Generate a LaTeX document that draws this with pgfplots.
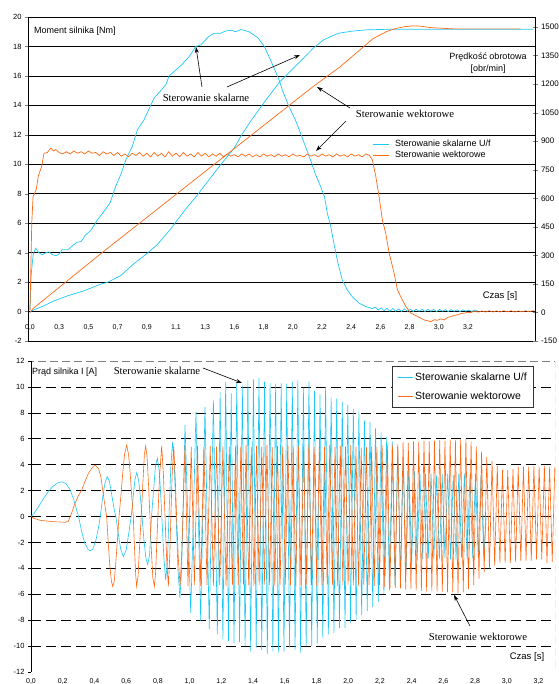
\documentclass[border=0pt]{standalone}
\usepackage{fontspec}
\setmainfont{Liberation Sans}
\newfontfamily\tms{Liberation Serif}
\usepackage{pgfplots}
\pgfplotsset{compat=1.18}
\usetikzlibrary{arrows.meta}
\definecolor{cblue}{RGB}{30,200,245}
\definecolor{corange}{RGB}{255,105,20}
\begin{document}
\begin{tikzpicture}
\path[use as bounding box] (0pt,0pt) rectangle (558pt,684pt);
% ================= TOP: torque (left) =================
\begin{axis}[
  at={(28pt,343pt)}, anchor=south west, scale only axis,
  width=507pt, height=324pt,
  xmin=-0.0137, xmax=3.459, ymin=-2, ymax=20,
  xtick={0,0.2,0.4,0.6,0.8,1.0,1.2,1.4,1.6,1.8,2.0,2.2,2.4,2.6,2.8,3.0},
  xticklabels={{0,0},{0,3},{0,5},{0,7},{0,9},{1,1},{1,3},{1,6},{1,8},{2,0},{2,2},{2,4},{2,6},{2,8},{3,0},{3,2}},
  xticklabel style={font=\fontsize{7}{8}\selectfont, yshift=23pt},
  major x tick style={draw=none},
  ytick={-2,0,...,20}, ytick pos=left, tick align=outside, major tick length=3pt,
  yticklabel style={font=\fontsize{7.5}{9}\selectfont},
  x axis line style={gray, line width=0.6pt},
  y axis line style={black, line width=0.8pt},
  /pgf/number format/assume math mode=true,
  legend style={at={(0.679,0.627)}, anchor=north west, draw=none, fill=none,
    font=\fontsize{9}{10.5}\selectfont, row sep=-1pt, inner sep=0pt, cells={anchor=west}},
  legend image code/.code={\draw[#1,line width=0.8pt] (0pt,0pt) -- (16pt,0pt); \path (20pt,0pt);},
]
\pgfplotsinvokeforeach{0,2,4,6,8,10,12,14,16,18}{\draw[black, line width=0.6pt] (axis cs:-0.0137,#1) -- (axis cs:3.459,#1);}
\addplot[cblue, line width=0.7pt] coordinates {
(0,0.1)(0.008,2.5)(0.022,3.9)(0.039,4.3)(0.06,4.0)(0.085,3.85)(0.11,4.0)(0.13,4.05)(0.155,3.85)(0.18,3.8)(0.205,3.95)(0.22,4.2)(0.26,4.2)(0.29,4.45)(0.32,4.7)(0.35,4.75)(0.38,5.2)(0.416,5.5)(0.46,6.2)(0.507,6.8)(0.549,7.4)(0.587,8.5)(0.626,9.4)(0.656,10.3)(0.70,11.2)(0.736,12.35)(0.78,13.0)(0.827,14.0)(0.85,14.5)(0.896,15.0)(0.93,15.4)(0.953,16.0)(1.033,16.7)(1.09,17.3)(1.136,18.0)(1.17,18.1)(1.216,18.6)(1.26,18.9)(1.307,18.9)(1.34,19.05)(1.376,19.1)(1.41,19.0)(1.445,19.15)(1.50,19.0)(1.53,18.8)(1.56,18.6)(1.605,18.0)(1.66,16.8)(1.707,15.7)(1.73,15.0)(1.77,14.0)(1.818,13.0)(1.853,12.1)(1.887,11.2)(1.921,10.3)(1.956,9.3)(1.99,8.5)(2.017,7.8)(2.036,6.7)(2.059,5.8)(2.082,4.6)(2.109,3.3)(2.139,2.15)(2.173,1.47)(2.208,1.0)(2.254,0.57)(2.30,0.34)(2.345,0.2)(2.365,0.3)(2.385,0.1)(2.405,0.25)(2.425,0.05)(2.445,0.22)(2.465,0.02)(2.485,0.2)(2.505,0.02)(2.525,0.18)(2.545,0.0)(2.565,0.18)(2.585,0.02)(2.605,0.16)(2.625,0.0)(2.645,0.16)(2.665,0.02)(2.685,0.15)(2.705,0.0)(2.725,0.15)(2.745,0.02)(2.765,0.14)(2.785,0.0)(2.805,0.14)(2.825,0.02)(2.845,0.13)(2.865,0.0)(2.885,0.13)(2.905,0.02)(2.925,0.12)(2.945,0.0)(2.965,0.12)(2.985,0.02)(3.005,0.1)(3.025,0.0)(3.045,0.1)(3.07,0.02)
};
\addlegendentry{Sterowanie skalarne U/f}
\addplot[corange, line width=0.7pt] coordinates {
(0,0.1)(0.005,2.5)(0.012,6.0)(0.021,7.8)(0.043,8.3)(0.057,9.2)(0.08,9.85)(0.096,10.75)(0.119,10.8)(0.142,11.1)(0.16,10.9)(0.176,11.0)(0.199,10.8)
(0.225,10.7)(0.25,10.85)(0.275,10.7)(0.3,10.9)(0.325,10.75)(0.35,10.85)(0.375,10.7)(0.4,10.9)(0.425,10.75)(0.45,10.8)(0.475,10.6)(0.5,10.85)(0.525,10.7)(0.55,10.8)(0.575,10.6)(0.6,10.8)(0.625,10.55)(0.65,10.7)(0.675,10.5)(0.7,10.75)(0.725,10.6)(0.75,10.8)(0.775,10.55)(0.8,10.75)(0.825,10.5)(0.85,10.8)(0.875,10.55)(0.9,10.75)(0.925,10.5)(0.95,10.85)(0.975,10.55)(1.0,10.75)(1.025,10.5)(1.05,10.8)(1.075,10.55)(1.1,10.7)(1.125,10.5)(1.15,10.8)(1.175,10.55)(1.2,10.75)(1.225,10.5)(1.25,10.7)(1.275,10.55)(1.3,10.75)(1.325,10.5)(1.35,10.7)(1.375,10.55)(1.4,10.65)(1.425,10.5)(1.45,10.7)(1.475,10.55)(1.5,10.7)(1.525,10.5)(1.55,10.65)(1.575,10.5)(1.6,10.7)(1.625,10.55)(1.65,10.65)(1.675,10.5)(1.7,10.7)(1.725,10.55)(1.75,10.65)(1.775,10.5)(1.8,10.7)(1.825,10.55)(1.85,10.6)(1.875,10.5)(1.9,10.7)(1.925,10.55)(1.95,10.65)(1.975,10.5)(2.0,10.7)(2.025,10.55)(2.05,10.65)(2.075,10.5)(2.1,10.7)(2.125,10.55)(2.15,10.65)(2.175,10.5)(2.2,10.7)(2.225,10.55)(2.25,10.65)(2.275,10.5)(2.3,10.7)(2.325,10.6)
(2.345,10.3)(2.368,9.2)(2.391,7.8)(2.414,6.2)(2.437,5.3)(2.46,3.96)(2.494,2.6)(2.517,1.47)(2.54,1.0)(2.574,0.34)(2.609,-0.11)(2.655,-0.34)(2.70,-0.57)(2.746,-0.68)(2.77,-0.55)(2.79,-0.6)(2.815,-0.5)(2.838,-0.57)(2.86,-0.4)(2.884,-0.34)(2.91,-0.25)(2.93,-0.23)(2.955,-0.12)(2.975,-0.11)(3.0,-0.05)(3.02,-0.07)(3.045,0.03)(3.07,-0.04)(3.095,0.04)(3.12,-0.03)(3.145,0.05)(3.17,-0.03)(3.195,0.04)(3.22,-0.03)(3.245,0.05)(3.27,-0.02)(3.295,0.05)(3.32,-0.03)(3.345,0.04)(3.37,-0.02)(3.395,0.05)(3.42,-0.02)(3.445,0.06)(3.456,0.02)
};
\addlegendentry{Sterowanie wektorowe}
\end{axis}
% ================= TOP: speed (right) =================
\begin{axis}[
  at={(28pt,343pt)}, anchor=south west, scale only axis,
  width=507pt, height=324pt,
  xmin=-0.0137, xmax=3.459, ymin=-150, ymax=1552.5,
  axis x line=none, axis y line*=right,
  ytick={-150,0,150,300,450,600,750,900,1050,1200,1350,1500},
  tick align=center, major tick length=5pt,
  yticklabel style={font=\fontsize{8}{9}\selectfont},
  y axis line style={black, line width=0.8pt},
  /pgf/number format/assume math mode=true, /pgf/number format/1000 sep={},
]
\addplot[cblue, line width=0.7pt] coordinates {
(0,0)(0.009,8)(0.096,35)(0.165,61)(0.256,87)(0.37,114)(0.485,149)(0.53,158)(0.62,193)(0.71,255)(0.80,309)(0.87,355)(0.965,440)(1.056,533)(1.147,618)(1.24,711)(1.31,780)(1.40,865)(1.445,927)(1.51,1004)(1.61,1110)(1.712,1213)(1.85,1319)(1.941,1389)(2.01,1432)(2.112,1467)(2.215,1479)(2.307,1485)(2.466,1488)(3.447,1488)
};
\addplot[corange, line width=0.7pt] coordinates {
(0,0)(0.02,20)(0.485,309)(1.0,620)(1.5,922)(1.712,1050)(1.941,1188)(2.123,1290)(2.26,1380)(2.352,1440)(2.443,1476)(2.51,1493)(2.57,1502)(2.626,1506)(2.68,1504)(2.74,1497)(2.9,1490)(3.36,1490)
};
\end{axis}
% ================= BOTTOM: current =================
\begin{axis}[
  at={(31pt,12pt)}, anchor=south west, scale only axis,
  width=524pt, height=311pt,
  xmin=0, xmax=3.304, ymin=-12, ymax=12,
  axis line style={draw=none},
  xtick={0,0.2,0.4,0.6,0.8,1.0,1.2,1.4,1.6,1.8,2.0,2.2,2.4,2.6,2.8,3.0,3.2},
  xticklabel style={font=\fontsize{7}{8}\selectfont, /pgf/number format/.cd, fixed, fixed zerofill, precision=1, use comma},
  xtick style={draw=none},
  ytick={-12,-10,...,12}, ytick pos=left, tick align=outside, major tick length=3pt,
  ytick style={black, line width=0.6pt},
  yticklabel style={font=\fontsize{7.5}{9}\selectfont},
  /pgf/number format/assume math mode=true,
  legend style={at={(0.96,0.984)}, anchor=north east, draw=black!80, line width=0.7pt, fill=white,
    font=\fontsize{10.5}{12}\selectfont, inner xsep=5pt, inner ysep=5pt, row sep=5pt, cells={anchor=west}},
  legend image code/.code={\draw[#1,line width=0.8pt] (0pt,0pt) -- (15pt,0pt);},
]
\pgfplotsinvokeforeach{-10,-8,-6,-4,-2,0,2,4,6,8,10}{\draw[black, line width=0.6pt, dash pattern=on 10pt off 5pt] (axis cs:0,#1) -- (axis cs:3.304,#1);}
\draw[gray, line width=0.8pt, dash pattern=on 8pt off 4pt] (rel axis cs:0,0) -- (rel axis cs:1,0) -- (rel axis cs:1,1) -- (rel axis cs:0,1);
\draw[black, line width=0.8pt] (rel axis cs:0,0) -- (rel axis cs:0,1);
\addplot[cblue, line width=0.6pt] coordinates {
(0,0)(0.02,0.25)(0.05,0.8)(0.08,1.4)(0.11,1.95)(0.14,2.35)(0.17,2.6)(0.195,2.68)(0.22,2.55)(0.245,2.1)(0.27,1.3)(0.285,0.6)(0.30,0)(0.32,-1.2)(0.34,-2.1)(0.36,-2.55)(0.375,-2.65)(0.39,-2.5)(0.41,-1.8)(0.425,-0.9)(0.437,0)(0.45,1.3)(0.465,2.5)(0.48,3.08)(0.495,2.7)(0.51,1.6)(0.525,0.5)(0.535,0)(0.55,-1.3)(0.565,-2.5)(0.582,-3.1)(0.60,-2.6)(0.615,-1.4)(0.632,0)(0.645,1.6)(0.656,2.9)(0.667,3.38)(0.68,2.7)(0.692,1.2)(0.70,0)(0.712,-1.8)(0.724,-3.2)(0.736,-3.7)(0.748,-2.9)(0.76,0)(0.772,1.9)(0.785,3.9)(0.797,4.49)(0.81,3.4)(0.825,0)(0.837,-3.0)(0.849,-4.9)(0.86,-3.5)(0.87,0)(0.882,4.0)(0.893,5.75)(0.904,3.8)(0.915,0)(0.927,-4.2)(0.939,-6.3)(0.95,-4.0)(0.958,0)(0.971,7.05)(0.989,0)(1.007,-7.44)(1.024,0)(1.04,8.08)(1.07,-8.08)(1.097,8.46)(1.124,-8.7)(1.15,8.97)(1.175,-9.1)
(1.1925,9.6)(1.21,-9.5)(1.2275,10.4)(1.245,-9.6)(1.2625,9.5)(1.28,-9.75)(1.2975,10.3)(1.315,-9.7)(1.3325,10.1)(1.35,-10.0)(1.3675,10.5)(1.385,-10.4)(1.4025,10.6)(1.42,-10.1)(1.4375,10.7)(1.455,-10.3)(1.4725,10.4)(1.49,-10.6)(1.5075,10.3)(1.525,-10.4)(1.5425,10.25)(1.56,-10.5)(1.5775,10.3)(1.595,-10.4)(1.6125,10.25)(1.63,-10.1)(1.6475,10.4)(1.665,-10.3)(1.6825,10.55)(1.70,-10.5)(1.7175,9.95)(1.735,-10.0)(1.7525,10.4)(1.77,-10.0)(1.7875,9.7)(1.805,-9.8)(1.8225,9.4)(1.84,-9.4)(1.8575,10.0)(1.875,-9.1)(1.8925,9.2)(1.91,-9.0)(1.9275,9.1)(1.945,-8.6)(1.9625,8.85)(1.98,-8.6)(1.9975,8.6)(2.015,-8.2)(2.0325,8.3)(2.05,-8.0)(2.0675,8.15)(2.085,-7.6)(2.1025,7.4)(2.12,-7.3)(2.1375,7.3)(2.155,-7.0)(2.1725,6.8)(2.19,-6.6)(2.2075,6.5)(2.225,-6.0)(2.2425,6.15)(2.26,-5.7)(2.2775,5.8)(2.295,-5.3)(2.3125,5.4)(2.33,-4.8)(2.3475,4.6)(2.365,-4.2)(2.3825,4.0)(2.40,-3.7)(2.4175,3.5)(2.435,-3.4)(2.4525,3.3)(2.47,-3.3)(2.4875,3.3)(2.505,-3.2)(2.5225,3.3)(2.54,-3.3)(2.5575,3.2)(2.575,-3.3)(2.5925,3.3)(2.61,-3.2)(2.6275,3.3)(2.645,-3.3)(2.6625,3.2)(2.68,-3.3)(2.6975,3.3)(2.715,-3.2)(2.7325,3.3)(2.75,-3.3)(2.7675,3.2)(2.785,-3.2)(2.8025,3.3)(2.82,-3.2)(2.8375,3.2)(2.855,-3.1)(2.87,0)
};
\addlegendentry{Sterowanie skalarne U/f}
\addplot[corange, line width=0.6pt] coordinates {
(0,0)(0.02,-0.15)(0.06,-0.3)(0.1,-0.35)(0.14,-0.4)(0.18,-0.42)(0.215,-0.45)(0.235,-0.38)(0.256,0.26)(0.277,1.0)(0.298,1.6)(0.32,2.05)(0.34,2.7)(0.362,3.33)(0.383,3.72)(0.403,3.97)(0.425,3.72)(0.44,3.08)(0.452,2.05)(0.467,0.77)(0.477,0)(0.487,-2.0)(0.497,-3.8)(0.507,-5.0)(0.515,-5.4)(0.525,-5.0)(0.535,-3.5)(0.545,-1.8)(0.555,0)(0.567,1.6)(0.578,3.3)(0.59,4.8)(0.603,5.5)(0.615,4.8)(0.625,3.4)(0.635,1.6)(0.645,0)(0.652,-2.3)(0.66,-4.5)(0.666,-5.4)(0.675,-4.6)(0.685,-2.2)(0.695,0)(0.705,2.5)(0.715,4.8)(0.723,5.45)(0.732,4.6)(0.742,2.2)(0.75,0)(0.758,-2.4)(0.768,-4.7)(0.778,-5.4)(0.786,-4.3)(0.795,-1.5)(0.80,0)(0.81,3)(0.824,5.45)(0.835,3.2)(0.845,0)(0.855,-3.2)(0.866,-5.4)(0.875,-3)(0.882,0)(0.89,3.2)(0.90,5.45)(0.91,2.8)(0.918,0)(0.928,-3)(0.94,-5.4)(0.95,-3)(0.958,0)(0.971,5.45)
(0.99,-5.35)(1.01,5.4)(1.03,-5.3)(1.05,5.45)(1.07,-5.35)(1.09,5.4)(1.11,-5.3)(1.13,5.45)(1.15,-5.35)(1.17,5.4)(1.19,-5.3)(1.21,5.45)(1.23,-5.35)(1.25,5.4)(1.27,-5.3)(1.29,5.45)
(1.3065,-5.3)(1.323,5.4)(1.3395,-5.25)(1.356,5.5)(1.3725,-5.3)(1.389,5.35)(1.4055,-5.35)(1.422,5.45)(1.4385,-5.3)(1.455,5.4)(1.4715,-5.25)(1.488,5.5)(1.5045,-5.3)(1.521,5.35)(1.5375,-5.35)(1.554,5.45)(1.5705,-5.3)(1.587,5.4)(1.6035,-5.25)(1.62,5.5)(1.6365,-5.3)(1.653,5.35)(1.6695,-5.35)(1.686,5.45)(1.7025,-5.3)(1.719,5.4)(1.7355,-5.25)(1.752,5.5)(1.7685,-5.3)(1.785,5.35)(1.8015,-5.35)(1.818,5.45)(1.8345,-5.3)(1.851,5.4)(1.8675,-5.25)(1.884,5.5)(1.9005,-5.3)(1.917,5.35)(1.9335,-5.35)(1.95,5.45)(1.9665,-5.3)(1.983,5.4)(1.9995,-5.25)(2.016,5.5)(2.0325,-5.3)(2.049,5.35)(2.0655,-5.35)(2.082,5.3)(2.0985,-5.3)(2.115,5.35)(2.1315,-5.3)(2.148,5.4)(2.1645,-5.35)(2.181,5.35)(2.1975,-5.3)(2.214,5.5)(2.2305,-5.45)(2.247,5.5)(2.2635,-5.5)(2.28,5.55)(2.2965,-5.5)(2.313,5.6)(2.3295,-5.55)(2.346,5.75)(2.3625,-5.65)(2.379,5.7)(2.3955,-5.6)(2.412,5.8)(2.4285,-5.7)(2.445,5.75)(2.4615,-5.75)(2.478,5.85)(2.4945,-5.8)(2.511,5.8)(2.5275,-5.75)(2.544,5.85)(2.5605,-5.8)(2.577,5.9)(2.5935,-5.8)(2.61,5.85)(2.6265,-5.85)(2.643,5.95)(2.6595,-5.85)(2.676,5.9)(2.6925,-5.9)(2.709,5.95)(2.7255,-5.85)(2.742,6.0)(2.7585,-5.6)(2.775,5.8)(2.7915,-5.3)(2.808,5.4)(2.8245,-4.8)(2.841,5.0)(2.8575,-4.3)(2.874,4.6)(2.8905,-4.0)(2.907,4.3)(2.9235,-3.8)(2.94,3.9)(2.9565,-3.6)(2.973,3.6)(2.9895,-3.6)(3.006,3.6)(3.0225,-3.6)(3.039,3.65)(3.0555,-3.5)(3.072,3.8)(3.0885,-3.45)(3.105,3.85)(3.1215,-3.4)(3.138,3.85)(3.1545,-3.4)(3.171,3.9)(3.1875,-3.3)(3.204,3.85)(3.2205,-3.3)(3.237,3.9)(3.2535,-3.6)(3.27,3.85)(3.2865,-3.5)(3.303,3.85)
};
\addlegendentry{Sterowanie wektorowe}
\end{axis}
% ================= labels and annotations =================
\node[anchor=west, font=\fontsize{9}{10}\selectfont, inner sep=0pt] at (34pt,653pt) {Moment silnika [Nm]};
\node[align=center, font=\fontsize{9}{12}\selectfont, inner sep=0pt] at (488pt,621pt) {Prędkość obrotowa\\{[obr/min]}};
\node[font=\fontsize{9.5}{10}\selectfont, inner sep=0pt] at (500pt,388pt) {Czas [s]};
\node[font=\fontsize{9.5}{10}\selectfont, inner sep=0pt] at (527pt,27pt) {Czas [s]};
\node[anchor=west, font=\fontsize{9}{10}\selectfont, inner sep=0pt] at (32pt,312pt) {Prąd silnika I [A]};
\node[font=\tms\fontsize{10.7}{12}\selectfont, inner sep=0pt] at (206pt,586pt) {Sterowanie skalarne};
\node[font=\tms\fontsize{10.7}{12}\selectfont, inner sep=0pt] at (405pt,570pt) {Sterowanie wektorowe};
\node[font=\tms\fontsize{10.7}{12}\selectfont, inner sep=0pt] at (157pt,313pt) {Sterowanie skalarne};
\node[font=\tms\fontsize{10.7}{12}\selectfont, inner sep=0pt] at (478pt,47pt) {Sterowanie wektorowe};
\begin{scope}[line width=0.6pt, -{Stealth[length=6pt,width=4pt]}]
\draw (202pt,597pt) -- (196pt,637pt);
\draw (227pt,597pt) -- (300pt,629pt);
\draw (350pt,576pt) -- (317pt,597pt);
\draw (346pt,563pt) -- (316pt,533pt);
\draw (203pt,316pt) -- (242pt,301pt);
\draw (470pt,58pt) -- (454pt,89pt);
\end{scope}
\end{tikzpicture}
\end{document}
